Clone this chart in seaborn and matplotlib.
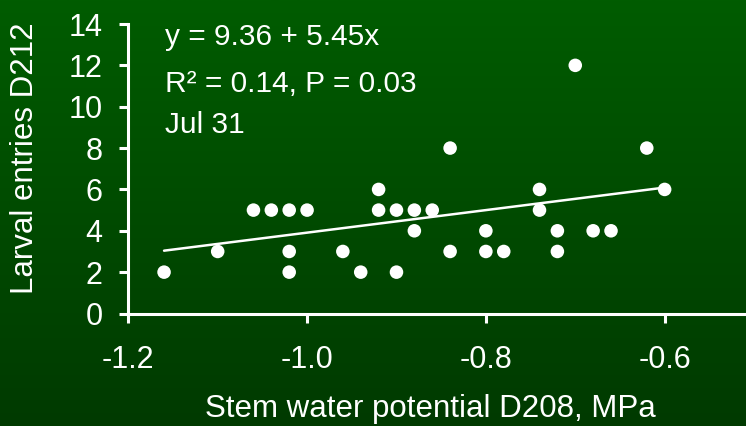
import numpy as np
import pandas as pd
import matplotlib
matplotlib.use("Agg")
import matplotlib.pyplot as plt
import seaborn as sns

# Data
stem_wp = [-1.16, -1.10, -1.06, -1.04, -1.02, -1.02, -1.02, -1.00, -0.96, -0.94,
           -0.92, -0.92, -0.90, -0.90, -0.88, -0.88, -0.86, -0.84, -0.84, -0.80,
           -0.80, -0.78, -0.74, -0.74, -0.72, -0.72, -0.70, -0.68, -0.66, -0.62,
           -0.60]
larval = [2, 3, 5, 5, 5, 3, 2, 5, 3, 2,
          6, 5, 5, 2, 5, 4, 5, 8, 3, 4,
          3, 3, 6, 5, 4, 3, 12, 4, 4, 8,
          6]
fit_intercept = 9.36
fit_slope = 5.45
x_ticks = [-1.2, -1.0, -0.8, -0.6]
x_tick_labels = ["-1.2", "-1.0", "-0.8", "-0.6"]
y_ticks = [0, 2, 4, 6, 8, 10, 12, 14]
annotations = ["y = 9.36 + 5.45x", "R\u00b2 = 0.14, P = 0.03", "Jul 31"]
x_label = "Stem water potential D208, MPa"
y_label = "Larval entries D212"

df = pd.DataFrame({"wp": stem_wp, "larval": larval})

sns.set_theme(style="white")
plt.rcParams["font.family"] = ["Liberation Sans", "DejaVu Sans"]

W, H = 746, 426
fig = plt.figure(figsize=(W / 100, H / 100), dpi=100)

# background gradient
bg = fig.add_axes([0, 0, 1, 1], zorder=0)
top = np.array([0, 92, 0]) / 255
bot = np.array([0, 58, 0]) / 255
t = np.linspace(0, 1, 256)[:, None]
grad = (top[None, :] * (1 - t) + bot[None, :] * t)[:, None, :]
bg.imshow(grad, aspect="auto", extent=[0, 1, 0, 1], origin="upper")
bg.set_axis_off()

left_px, right_px, top_px, bot_px = 128.3, 746, 24.0, 313.5
ax = fig.add_axes([left_px / W, (H - bot_px) / H, (right_px - left_px) / W, (bot_px - top_px) / H], zorder=1)
ax.set_facecolor("none")

sns.scatterplot(data=df, x="wp", y="larval", ax=ax, color="white", s=95,
                edgecolor="none", linewidth=0, zorder=3, clip_on=False)

xfit = np.array([min(stem_wp), max(stem_wp)])
ax.plot(xfit, fit_intercept + fit_slope * xfit, color="white", lw=1.8, zorder=2)

ax.set_xlim(-1.2, -0.509)
ax.set_ylim(0, 14)
ax.set_xticks(x_ticks)
ax.set_xticklabels(x_tick_labels)
ax.set_yticks(y_ticks)
ax.set_xlabel("")
ax.set_ylabel("")

for s in ["top", "right"]:
    ax.spines[s].set_visible(False)
for s in ["bottom", "left"]:
    ax.spines[s].set_color("white")
    ax.spines[s].set_linewidth(2.2)

ax.tick_params(axis="both", which="major", bottom=True, left=True,
               colors="white", labelcolor="white", labelsize=22,
               length=6.5, width=2.2, direction="out")
ax.tick_params(axis="x", pad=16)
ax.tick_params(axis="y", pad=12)

fig.text(430 / W, (H - 417) / H, x_label, color="white", fontsize=22.5,
         ha="center", va="baseline")
fig.text(25 / W, (H - 158) / H, y_label, color="white", fontsize=22.5,
         ha="center", va="center", rotation=90)

ys = [45, 91.7, 133.3]
for txt, yp in zip(annotations, ys):
    fig.text(165 / W, (H - yp) / H, txt, color="white", fontsize=21.5,
             ha="left", va="baseline")

fig.savefig("out.png", dpi=100)
